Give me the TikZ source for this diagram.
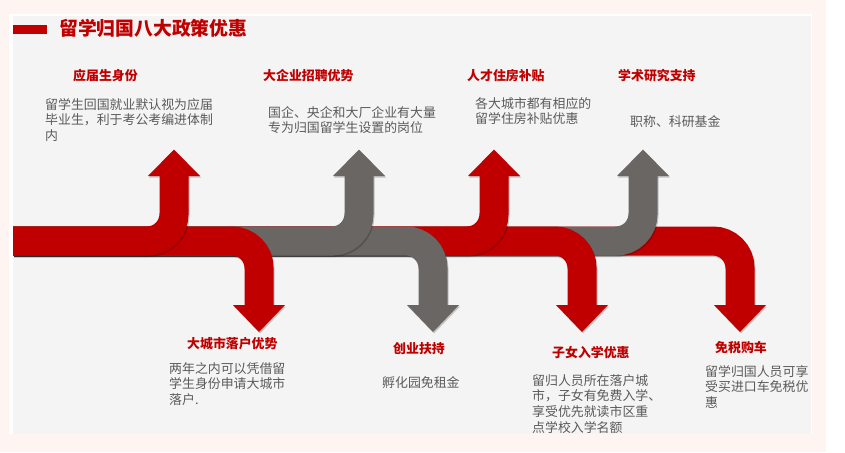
\documentclass[tikz,border=0pt]{standalone}
\usepackage{fontspec}
\newfontfamily\cjk{Noto Sans CJK SC}
\definecolor{rd}{HTML}{C00000}
\definecolor{gy}{HTML}{6A6664}
\definecolor{bgpink}{HTML}{FEF4F1}
\definecolor{panel}{HTML}{F4F4F4}
\definecolor{txt}{HTML}{5A5A5A}
\tikzset{
  body/.style={font=\cjk\fontsize{12.9}{15.8}\selectfont, text=txt, align=left, inner sep=0pt, anchor=north west},
  head/.style={font=\cjk\bfseries\fontsize{12.9}{15.8}\selectfont, text=rd, inner sep=0pt, anchor=north west},
  rib/.style={line width=29, rounded corners=27},
  shad/.style={black, opacity=.2}
}
\newcommand\ribup[2]{%
  \begin{scope}[shift={(1,1.5)}]
    \draw[rib, shad] (13,241) -- (#2,241) -- (#2,175.5);
    \fill[shad] (#2-26,176) -- (#2+26,176) -- (#2,149.5) -- cycle;
  \end{scope}
  \draw[rib, #1] (13,241) -- (#2,241) -- (#2,175);
  \fill[#1] (#2-26,176) -- (#2+26,176) -- (#2,149.5) -- cycle;
}
\newcommand\ribdown[2]{%
  \begin{scope}[shift={(1,1.5)}]
    \draw[rib, shad] (13,241) -- (#2,241) -- (#2,305.5);
    \fill[shad] (#2-26,305) -- (#2+26,305) -- (#2,332) -- cycle;
  \end{scope}
  \draw[rib, #1] (13,241) -- (#2,241) -- (#2,306);
  \fill[#1] (#2-26,305) -- (#2+26,305) -- (#2,332) -- cycle;
}
\begin{document}
\begin{tikzpicture}[x=1pt,y=-1pt]
\useasboundingbox (0,0) rectangle (845,452);
\fill[white] (0,0) rectangle (845,452);
\fill[bgpink] (0,0) rectangle (826,452);
\fill[white] (9,14) rectangle (812,434);
\fill[panel] (13,16.5) rectangle (811,434);
% title
\fill[rd] (13,25) rectangle (47,34.5);
\node[font=\cjk\bfseries\fontsize{18.8}{22}\selectfont, text=rd, inner sep=0pt, anchor=west] (title) at (59,28.5) {留学归国八大政策优惠};
% ribbons (bottom to top)
\begin{scope}
\clip (13,16.5) rectangle (811,434);
\ribdown{rd}{740}
\ribup{gy}{643}
\ribdown{rd}{582}
\ribup{rd}{494}
\ribdown{gy}{433}
\ribup{gy}{359}
\ribdown{rd}{259}
\ribup{rd}{174}
\end{scope}
% top texts
\node[head] (h1) at (73,69) {应届生身份};
\node[body] (b1) at (45,98) {留学生回国就业默认视为应届\\毕业生，利于考公考编进体制\\内};
\node[head] (h2) at (263,69) {大企业招聘优势};
\node[body] (b2) at (268,106) {国企、央企和大厂企业有大量\\专为归国留学生设置的岗位};
\node[head] (h3) at (467,69) {人才住房补贴};
\node[body] (b3) at (475,97) {各大城市都有相应的\\留学住房补贴优惠};
\node[head] (h4) at (618,69) {学术研究支持};
\node[body] (b4) at (630,115) {职称、科研基金};
% bottom texts
\begin{scope}
\clip (13,16.5) rectangle (811,434);
\node[head] (h5) at (187,337) {大城市落户优势};
\node[body] (b5) at (169,362) {两年之内可以凭借留\\学生身份申请大城市\\落户.};
\node[head] (h6) at (393,342) {创业扶持};
\node[body] (b6) at (382,376) {孵化园免租金};
\node[head] (h7) at (552,346) {子女入学优惠};
\node[body] (b7) at (532,374) {留归人员所在落户城\\市，子女有免费入学、\\享受优先就读市区重\\点学校入学名额};
\node[head] (h8) at (715,341) {免税购车};
\node[body] (b8) at (705,365) {留学归国人员可享\\受买进口车免税优\\惠};
\end{scope}
\end{tikzpicture}
\end{document}
